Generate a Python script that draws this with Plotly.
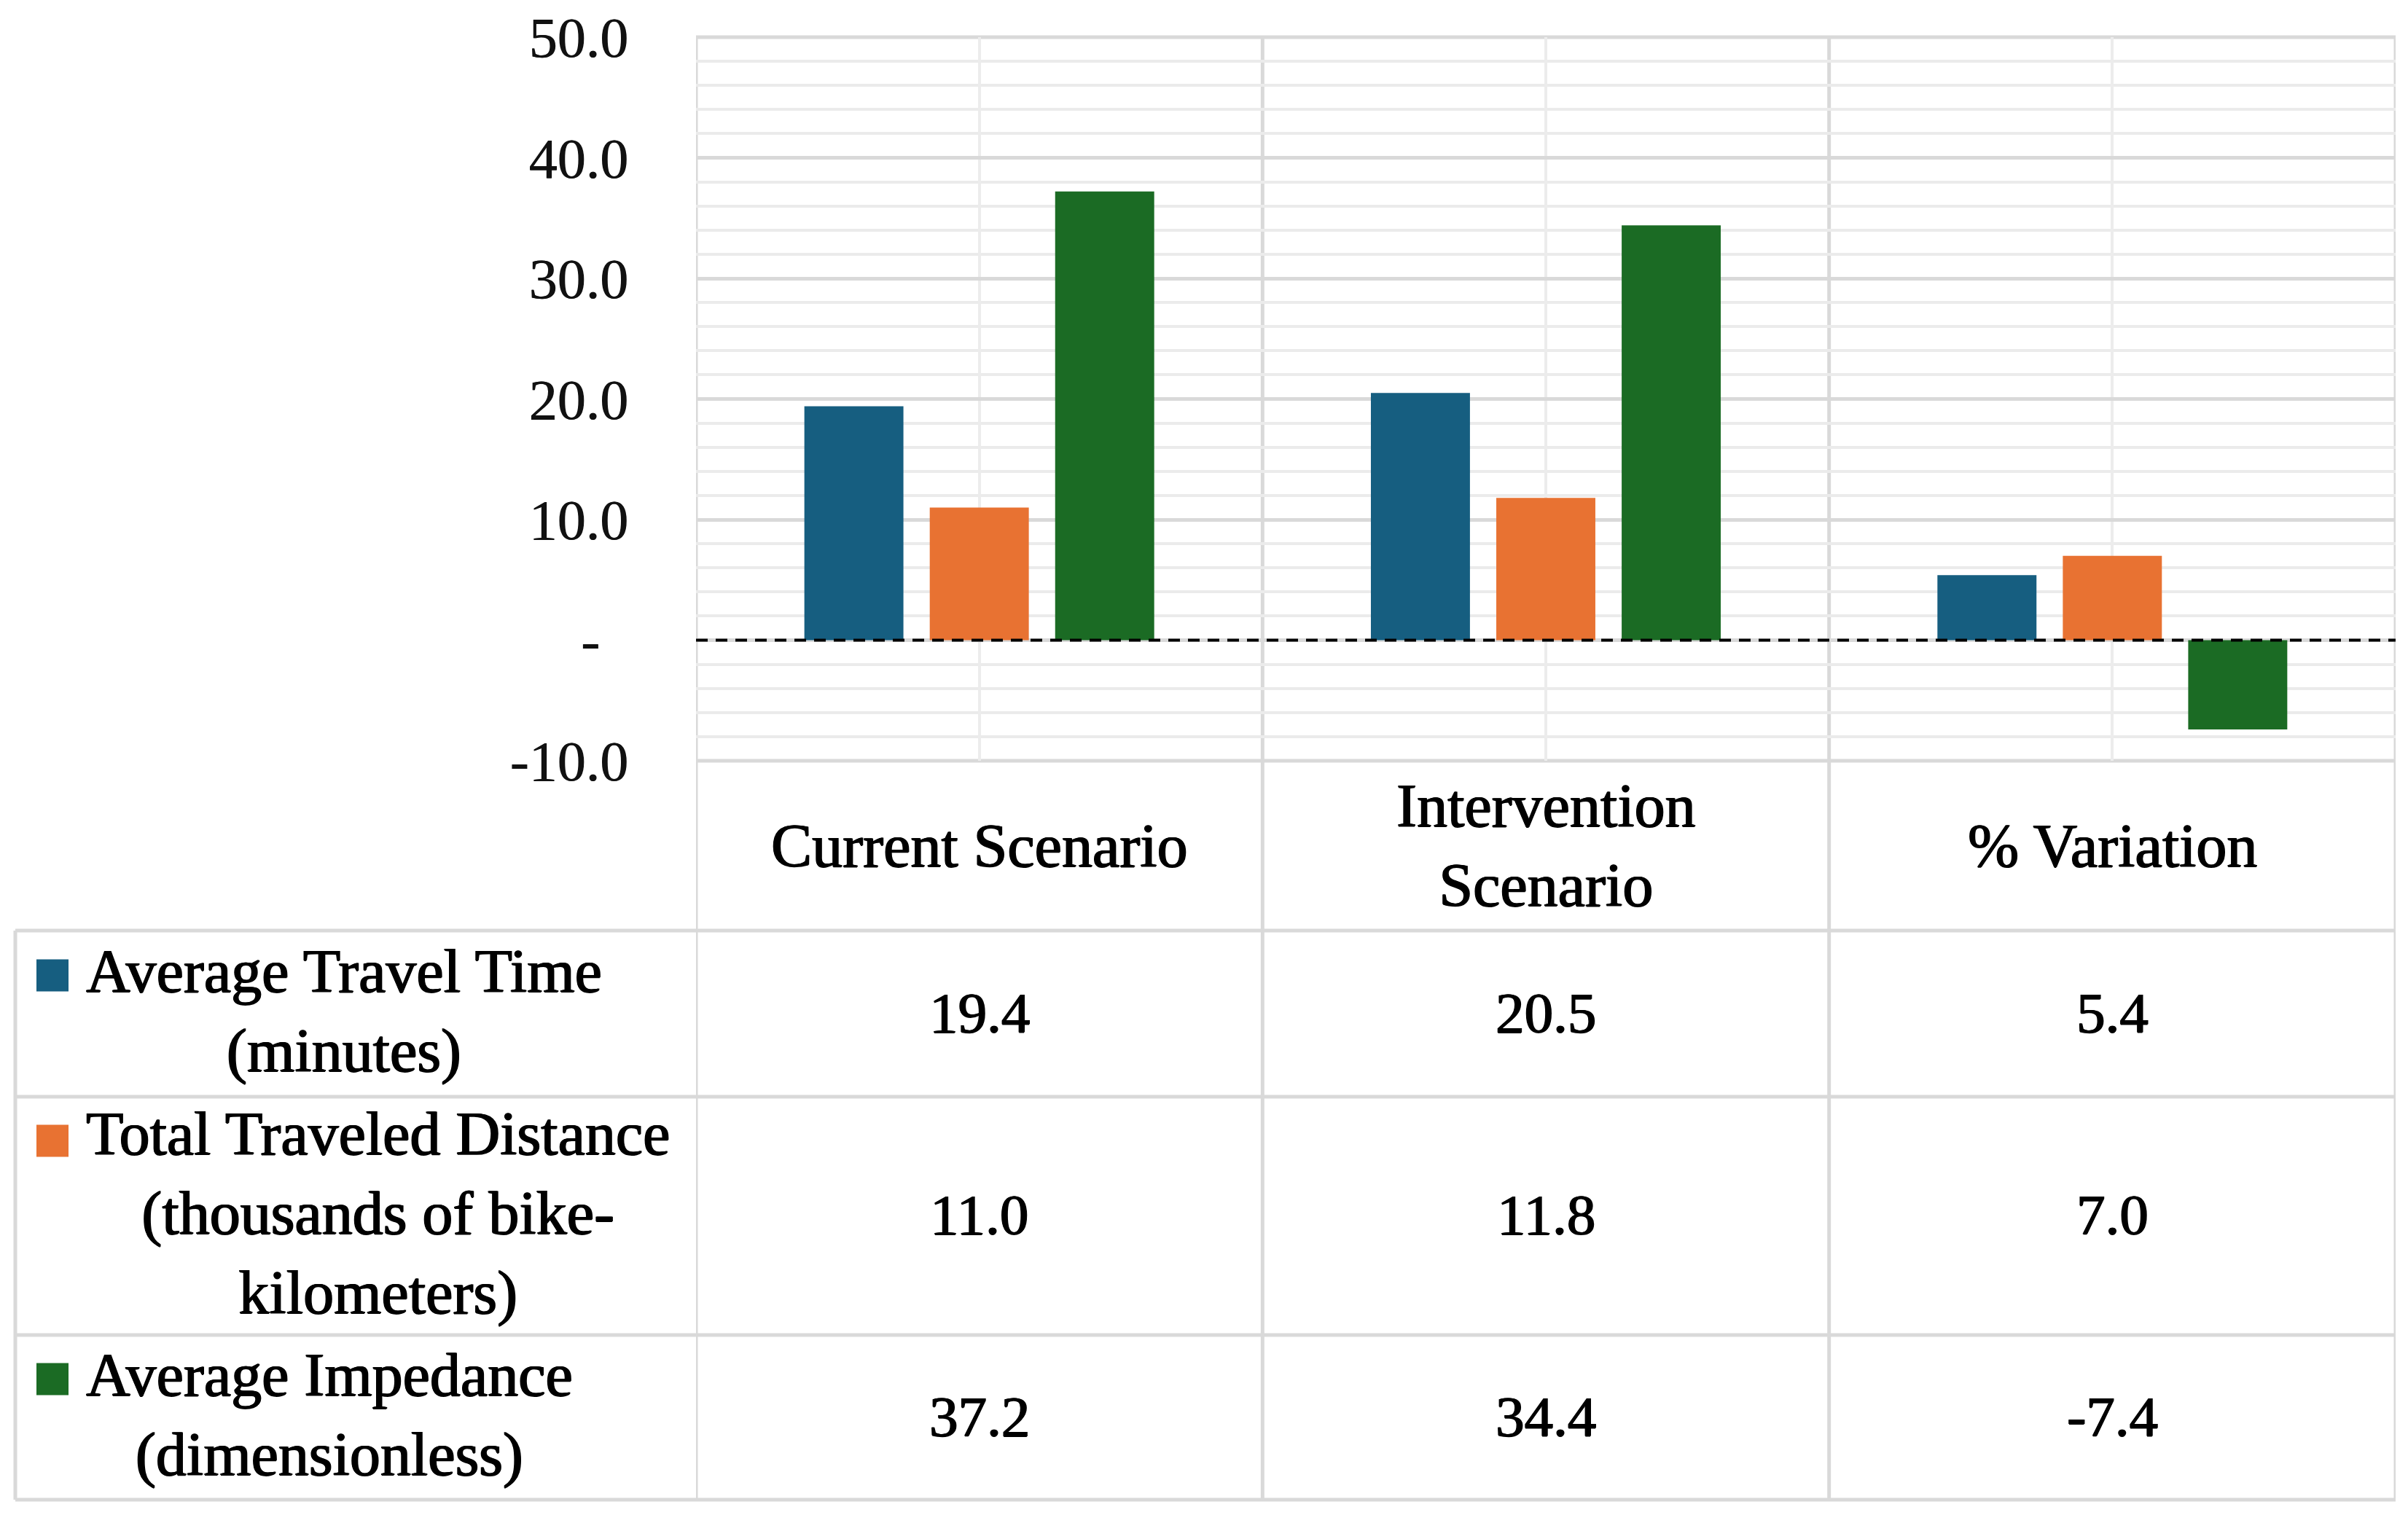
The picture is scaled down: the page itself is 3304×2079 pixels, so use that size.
import plotly.graph_objects as go

W, H = 3304, 2079

categories = ["Current Scenario", "Intervention Scenario", "% Variation"]
header_labels = ["Current Scenario", "Intervention<br>Scenario", "% Variation"]
series_names = ["Average Travel Time", "Total Traveled Distance", "Average Impedance"]
series_units = ["(minutes)", "(thousands of bike-<br>kilometers)", "(dimensionless)"]
avg_travel_time = [19.4, 20.5, 5.4]
total_distance = [11.0, 11.8, 7.0]
avg_impedance = [37.2, 34.4, -7.4]
series_values = [avg_travel_time, total_distance, avg_impedance]
colors = ["#165E80", "#E87232", "#1B6B24"]
tick_vals = [50, 40, 30, 20, 10, 0, -10]
tick_text = ["50.0", "40.0", "30.0", "20.0", "10.0", "-\u00a0\u00a0", "-10.0"]

FONT = "Liberation Serif"
TXT = "#000000"
SHADOW = "1px 0px 0px #000, -0.8px 0px 0px #000, 0px 0.8px 0px #000"
OFFX, OFFY = 8, 3
def py(p):
    return 1 - (p - OFFY) / H
def px(p):
    return (p - OFFX) / W

plot_left, plot_right, plot_top, plot_bottom = 955, 3287, 46, 1039
table_left = 21
row_edges = [1272, 1500, 1827, 2053]
GRID = "#d9d9d9"
LH = 101

fig = go.Figure()
for name, vals, col in zip(series_names, series_values, colors):
    fig.add_trace(go.Bar(x=categories, y=vals, name=name, marker=dict(color=col, line=dict(width=0)),
                         showlegend=False))

shapes = []
def line(x0, y0, x1, y1, xref="paper", yref="paper", color=GRID, width=5, dash="solid", layer="below"):
    shapes.append(dict(type="line", x0=x0, y0=y0, x1=x1, y1=y1, xref=xref, yref=yref,
                       line=dict(color=color, width=width, dash=dash), layer=layer))

# vertical borders / category boundaries
for xv in [-0.5, 0.5, 1.5, 2.5]:
    line(xv, py(plot_top), xv, py(row_edges[-1]), xref="x")
# top border
line(px(plot_left), py(plot_top), px(plot_right), py(plot_top))
# header bottom (plot bottom)
line(px(plot_left), py(plot_bottom), px(plot_right), py(plot_bottom))
# table rows
for r in row_edges:
    line(px(table_left), py(r), px(plot_right), py(r))
line(px(table_left), py(row_edges[0]), px(table_left), py(row_edges[-1]))
# zero dashed line
line(px(plot_left), 0, px(plot_right), 0, yref="y", color="#000000", width=4, dash="16px,11px", layer="above")

annotations = []
# header labels
for c, lab in zip(categories, header_labels):
    annotations.append(dict(x=c, y=py(1155), xref="x", yref="paper", text=lab, showarrow=False,
                            xanchor="center", yanchor="middle", align="center",
                            font=dict(family=FONT, size=84, color=TXT, shadow=SHADOW)))
# row labels and values
for i, (name, unit, vals, col) in enumerate(zip(series_names, series_units, series_values, colors)):
    top, bot = row_edges[i], row_edges[i + 1]
    center = (top + bot) / 2 - 4
    label = name + "<br>" + unit
    nlines = label.count("<br>") + 1
    annotations.append(dict(x=px(116), y=py(center), xref="paper", yref="paper", text=label,
                            showarrow=False, xanchor="left", yanchor="middle", align="center",
                            font=dict(family=FONT, size=84, color=TXT, shadow=SHADOW)))
    first = center - (nlines - 1) / 2 * LH
    shapes.append(dict(type="rect", xref="paper", yref="paper", x0=px(50), x1=px(94),
                       y0=py(first - 20), y1=py(first + 24), fillcolor=col, line=dict(width=0), layer="above"))
    for c, v in zip(categories, vals):
        annotations.append(dict(x=c, y=py((top + bot) / 2 - 2), xref="x", yref="paper", text=f"{v:.1f}",
                                showarrow=False, xanchor="center", yanchor="middle",
                                font=dict(family=FONT, size=79, color=TXT, shadow=SHADOW)))

fig.update_layout(
    width=W, height=H,
    margin=dict(l=0, r=0, t=0, b=0, autoexpand=False),
    paper_bgcolor="white", plot_bgcolor="white",
    barmode="group", bargap=0.336, bargroupgap=0.21,
    shapes=shapes, annotations=annotations,
    xaxis=dict(domain=[px(plot_left), px(plot_right)], type="category", range=[-0.5, 2.5],
               showgrid=True, gridcolor="#ececec", gridwidth=4, showticklabels=False,
               zeroline=False, showline=False, ticks="", automargin=False),
    yaxis=dict(domain=[py(plot_bottom), py(plot_top)], range=[-10, 50], automargin=False,
               tickvals=tick_vals, ticktext=tick_text, ticks="", ticklabelstandoff=92,
               ticklabeloverflow="allow",
               showgrid=True, gridcolor=GRID, gridwidth=5, zeroline=False, showline=False,
               minor=dict(dtick=2, showgrid=True, gridcolor="#ebebeb", gridwidth=4),
               tickfont=dict(family=FONT, size=78, color="#111111", shadow="0.8px 0px 0px #111")),
)

fig.write_html("out.html")
